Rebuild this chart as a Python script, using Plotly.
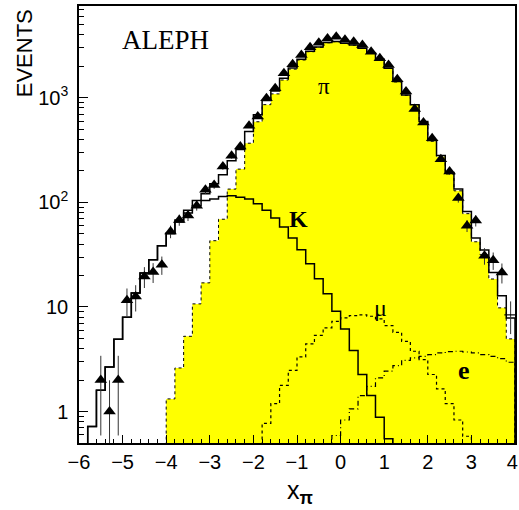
import plotly.graph_objects as go

BIN_WIDTH = 0.2
FLOOR = 0.05

# total prediction (solid histogram)
total_x = [-5.7, -5.5, -5.3, -5.1, -4.9, -4.7, -4.5, -4.3, -4.1, -3.9, -3.7, -3.5, -3.3, -3.1,
           -2.9, -2.7, -2.5, -2.3, -2.1, -1.9, -1.7, -1.5, -1.3, -1.1, -0.9, -0.7, -0.5, -0.3,
           -0.1, 0.1, 0.3, 0.5, 0.7, 0.9, 1.1, 1.3, 1.5, 1.7, 1.9, 2.1, 2.3, 2.5, 2.7, 2.9,
           3.1, 3.3, 3.5, 3.7, 3.9]
total_y = [0.72, 1.6, 2.67, 4.9, 7.96, 13.6, 21.1, 28.3, 38.5, 51, 68, 84, 104, 121,
           151, 184, 250, 320, 476, 690, 945, 1165, 1540, 1930, 2340, 2790, 3065, 3380,
           3460, 3325, 3200, 2977, 2668, 2336, 1918, 1429, 1066, 860, 593, 390, 280, 193, 134, 82,
           45.6, 35, 21.4, 12.8, 7.85]

# pion contribution (yellow)
pi_x = [-3.9, -3.7, -3.5, -3.3, -3.1, -2.9, -2.7, -2.5, -2.3, -2.1, -1.9, -1.7, -1.5, -1.3,
        -1.1, -0.9, -0.7, -0.5, -0.3, -0.1, 0.1, 0.3, 0.5, 0.7, 0.9, 1.1, 1.3, 1.5, 1.7, 1.9,
        2.1, 2.3, 2.5, 2.7, 2.9, 3.1, 3.3, 3.5, 3.7, 3.9]
pi_y = [1.32, 2.61, 5.24, 10.7, 17, 43, 69, 134, 208, 368, 590, 860, 1090, 1480,
        1880, 2300, 2760, 3040, 3360, 3440, 3310, 3185, 2965, 2656, 2325, 1908, 1419, 1058, 852, 586,
        384, 273, 187, 129, 78, 42, 31.5, 18.5, 9.8, 4.95]

# kaon contribution
k_x = [-5.7, -5.5, -5.3, -5.1, -4.9, -4.7, -4.5, -4.3, -4.1, -3.9, -3.7, -3.5, -3.3, -3.1,
       -2.9, -2.7, -2.5, -2.3, -2.1, -1.9, -1.7, -1.5, -1.3, -1.1, -0.9, -0.7, -0.5, -0.3,
       -0.1, 0.1, 0.3, 0.5, 0.7, 0.9, 1.1]
k_y = [0.72, 1.6, 2.67, 4.9, 7.96, 13.6, 21.1, 28.3, 38.5, 50, 65, 79, 93, 104,
       108, 114, 116, 112, 108, 97, 84, 71, 58, 45.6, 35.2, 25.9, 18.6, 13.4,
       9.08, 6.17, 3.83, 2.26, 1.42, 0.88, 0.55]

# muon contribution
mu_x = [-1.7, -1.5, -1.3, -1.1, -0.9, -0.7, -0.5, -0.3, -0.1, 0.1, 0.3, 0.5, 0.7, 0.9,
        1.1, 1.3, 1.5, 1.7, 1.9, 2.1, 2.3, 2.5, 2.7, 2.9]
mu_y = [0.77, 1.19, 1.78, 2.48, 3.33, 4.43, 5.36, 6.3, 7.29, 7.85, 8.26, 8.4, 8.15, 7.7,
        6.62, 5.72, 4.69, 3.77, 3.14, 2.26, 1.65, 1.19, 0.83, 0.58]

# electron contribution
e_x = [-0.1, 0.1, 0.3, 0.5, 0.7, 0.9, 1.1, 1.3, 1.5, 1.7, 1.9, 2.1, 2.3, 2.5, 2.7, 2.9,
       3.1, 3.3, 3.5, 3.7, 3.9]
e_y = [0.59, 0.83, 1.06, 1.42, 1.74, 2.1, 2.43, 2.75, 3.09, 3.26, 3.37, 3.5, 3.63, 3.74,
       3.77, 3.71, 3.63, 3.5, 3.37, 3.2, 2.96]

# data points
data_x = [-5.5, -5.3, -5.1, -4.9, -4.7, -4.5, -4.3, -4.1, -3.9, -3.7, -3.5, -3.3, -3.1, -2.9,
          -2.7, -2.5, -2.3, -2.1, -1.9, -1.7, -1.5, -1.3, -1.1, -0.9, -0.7, -0.5, -0.3, -0.1,
          0.1, 0.3, 0.5, 0.7, 0.9, 1.1, 1.3, 1.5, 1.7, 1.9, 2.1, 2.3, 2.5, 2.7, 2.9, 3.1,
          3.3, 3.5, 3.7]
data_y = [2, 1, 2, 11.6, 12.6, 19.6, 21.6, 25.3, 52.7, 68, 75, 93, 132, 147,
          220, 279, 342, 540, 661, 991, 1231, 1718, 2091, 2570, 3040, 3366, 3700, 3845,
          3600, 3443, 3200, 2760, 2388, 2061, 1504, 1146, 783, 580, 411, 259, 197, 110, 59.8, 67,
          30.9, 27.9, 21.4]
data_err = [1.41, 0.99, 1.41, 3.41, 3.55, 4.43, 4.65, 5.03, 7.26, 8.25, 8.66, 9.64, 11.5, 12.1,
            14.8, 16.7, 18.5, 23.2, 25.7, 31.5, 35.1, 41.4, 45.7, 50.7, 55.1, 58.0, 60.8, 62.0,
            60.0, 58.7, 56.6, 52.5, 48.9, 45.4, 38.8, 33.9, 28.0, 24.1, 20.3, 16.1, 14.0, 10.5, 7.73, 8.19,
            5.56, 5.28, 4.63]
last_x = [3.9]
last_y = [8.4]
last_err = [2.9]

X_TICKS = [-6, -5, -4, -3, -2, -1, 0, 1, 2, 3, 4]
X_TICKTEXT = ["\u22126", "\u22125", "\u22124", "\u22123", "\u22122", "\u22121",
              "0", "1", "2", "3", "4\u00a0"]
Y_TICKS = [1, 10, 100, 1000]
Y_TICKTEXT = ["1", "10", "10<sup>2</sup>", "10<sup>3</sup>"]
Y_MINOR = [0.6, 0.7, 0.8, 0.9, 2, 3, 4, 5, 6, 7, 8, 9, 20, 30, 40, 50, 60, 70, 80, 90,
           200, 300, 400, 500, 600, 700, 800, 900, 2000, 3000, 4000, 5000, 6000, 7000]


def step_xy(centers, values):
    half = BIN_WIDTH / 2
    xs = [centers[0] - half]
    ys = [FLOOR]
    for c, v in zip(centers, values):
        xs.append(c - half)
        ys.append(v)
    xs.append(centers[-1] + half)
    ys.append(values[-1])
    xs.append(centers[-1] + half)
    ys.append(FLOOR)
    return xs, ys


fig = go.Figure()

px_, py_ = step_xy(pi_x, pi_y)
fig.add_trace(go.Scatter(x=px_, y=py_, mode="lines", line_shape="hv", fill="toself",
                         fillcolor="#ffff00",
                         line=dict(color="black", width=1, dash="dot"), hoverinfo="skip"))

mx, my = step_xy(mu_x, mu_y)
fig.add_trace(go.Scatter(x=mx, y=my, mode="lines", line_shape="hv",
                         line=dict(color="black", width=1.2, dash="3px,3px")))

ex, ey = step_xy(e_x, e_y)
fig.add_trace(go.Scatter(x=ex, y=ey, mode="lines", line_shape="hv",
                         line=dict(color="black", width=1.2, dash="5px,3px,1px,3px")))

kx, ky = step_xy(k_x, k_y)
fig.add_trace(go.Scatter(x=kx, y=ky, mode="lines", line_shape="hv",
                         line=dict(color="black", width=1.5)))

tx, ty = step_xy(total_x, total_y)
fig.add_trace(go.Scatter(x=tx, y=ty, mode="lines", line_shape="hv",
                         line=dict(color="black", width=1.5)))

fig.add_trace(go.Scatter(x=data_x, y=data_y, mode="markers",
                         marker=dict(symbol="triangle-up", size=11, color="black"),
                         error_y=dict(type="data", array=data_err, color="#333333",
                                      thickness=1, width=0)))

fig.add_trace(go.Scatter(x=last_x, y=last_y, mode="markers",
                         marker=dict(symbol="line-ew-open", size=9, color="black",
                                     line=dict(color="black", width=1.2)),
                         error_y=dict(type="data", array=last_err, color="#333333",
                                      thickness=1, width=0)))

serif = "Liberation Serif"
sans = "Liberation Sans"

annotations = [
    dict(text="ALEPH", x=-4.01, y=3.553, xref="x", yref="y", showarrow=False,
         font=dict(family=serif, size=27, color="black")),
    dict(text="π", x=-0.39, y=3.104, xref="x", yref="y", showarrow=False,
         font=dict(family=serif, size=23, color="black")),
    dict(text="<b>K</b>", x=-0.97, y=1.843, xref="x", yref="y", showarrow=False,
         font=dict(family=serif, size=24, color="black")),
    dict(text="μ", x=0.91, y=0.993, xref="x", yref="y", showarrow=False,
         font=dict(family=serif, size=24, color="black")),
    dict(text="<b>e</b>", x=2.83, y=0.392, xref="x", yref="y", showarrow=False,
         font=dict(family=serif, size=26, color="black")),
    dict(text="EVENTS", x=-0.126, y=0.892, xref="paper", yref="paper", showarrow=False,
         textangle=-90, xanchor="center", yanchor="middle",
         font=dict(family=sans, size=22, color="black")),
    dict(text="x<sub><b>π</b></sub>", x=0.507, y=-0.112, xref="paper", yref="paper",
         showarrow=False, xanchor="center", yanchor="middle",
         font=dict(family=sans, size=25, color="black")),
]

fig.update_layout(
    width=519, height=510,
    margin=dict(l=79, r=4, t=6, b=67, autoexpand=False),
    paper_bgcolor="white", plot_bgcolor="white",
    showlegend=False,
    annotations=annotations,
    xaxis=dict(range=[-6, 4], tickmode="array", tickvals=X_TICKS, ticktext=X_TICKTEXT,
               ticks="inside", ticklen=8, tickwidth=1,
               tickcolor="black", showline=True, linecolor="black", linewidth=1.5,
               mirror=True, showgrid=False, zeroline=False, ticklabeloverflow="allow",
               tickfont=dict(family=sans, size=20, color="black"),
               minor=dict(tickmode="linear", tick0=0, dtick=0.2, ticks="inside", ticklen=4,
                          tickwidth=1, tickcolor="black", showgrid=False)),
    yaxis=dict(type="log", range=[-0.301, 3.878], tickmode="array", tickvals=Y_TICKS,
               ticktext=Y_TICKTEXT, ticks="inside", ticklen=9, tickwidth=1,
               tickcolor="black", showline=True, linecolor="black", linewidth=1.5,
               mirror=True, showgrid=False, zeroline=False,
               ticklabelstandoff=5,
               tickfont=dict(family=sans, size=20, color="black"),
               minor=dict(tickmode="array", tickvals=Y_MINOR, ticks="inside", ticklen=5,
                          tickwidth=1, tickcolor="black", showgrid=False)),
)

fig.write_html("out.html", config={"displayModeBar": False},
               post_script="document.body.style.margin='0';document.body.style.padding='0';")
